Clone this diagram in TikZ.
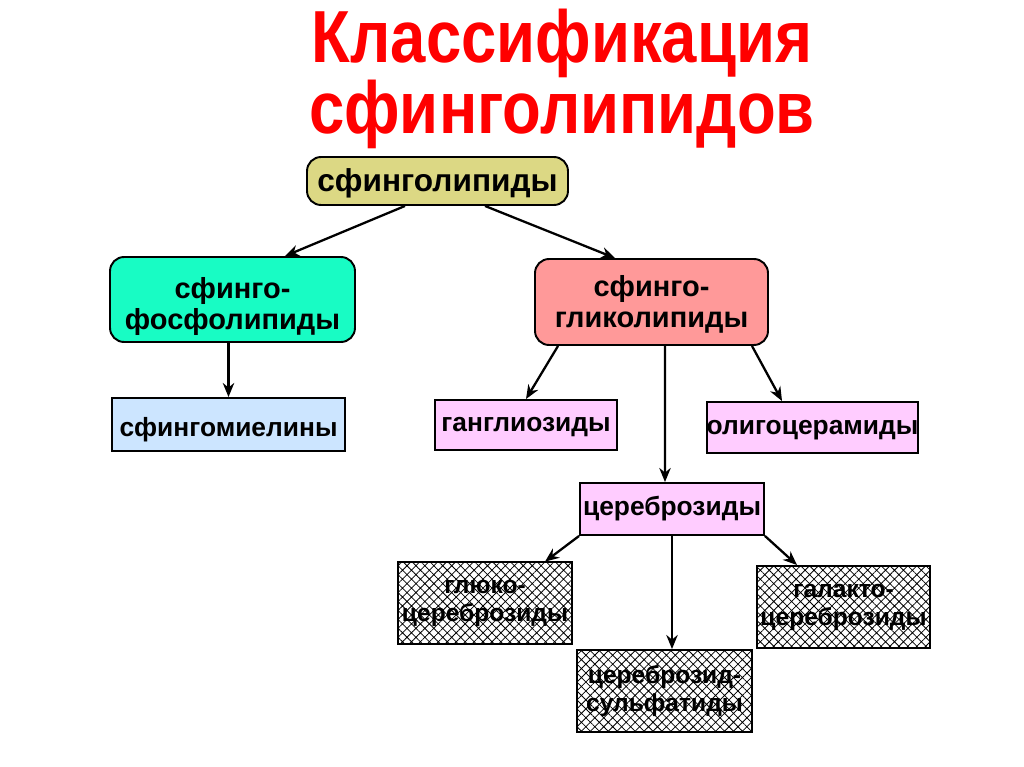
\documentclass[tikz,border=0pt]{standalone}
\usepackage{fontspec}
\setmainfont{Liberation Sans}
\newfontfamily\titlefont{Liberation Sans}[FakeStretch=0.86]
\usetikzlibrary{arrows.meta,patterns.meta}

\definecolor{lipidyellow}{RGB}{220,216,132}
\definecolor{phosgreen}{RGB}{24,252,196}
\definecolor{glycored}{RGB}{255,153,153}
\definecolor{myelinblue}{RGB}{204,229,255}
\definecolor{glycopink}{RGB}{255,204,255}

\begin{document}
\begin{tikzpicture}[x=0.02cm,y=-0.02cm,>={Stealth[length=8pt,width=6.5pt]},
  box/.style={draw, line width=1.1pt, align=center, inner sep=0pt,
    font=\bfseries\fontsize{15}{17}\selectfont, text height=10.8pt, text depth=3pt},
  roundbox/.style={draw, line width=1.1pt, align=center, inner sep=0pt, rounded corners=8pt,
    font=\bfseries\fontsize{16.5}{18}\selectfont},
  hatchbox/.style={draw, line width=1.1pt, align=center, inner sep=0pt, preaction={fill=white},
    pattern={Hatch[angle=45,distance=3.6pt,line width=0.45pt]},
    font=\bfseries\fontsize{14}{16}\selectfont},
  title/.style={anchor=base, align=center, text=red, font=\titlefont\bfseries\fontsize{42}{37.4}\selectfont},
  link/.style={->, line width=1.3pt}]
  \useasboundingbox (0,0) rectangle (1024,767);

  % title
  \node[title] (title) at (562,133) {Классификация\\сфинголипидов};

  % boxes
  \node[roundbox, fill=lipidyellow, minimum width=5.22cm, minimum height=0.96cm,
    font=\bfseries\fontsize{18}{20}\selectfont, text height=15.8pt, text depth=3.6pt] (sphingo) at (437.5,181) {сфинголипиды};
  \node[roundbox, fill=phosgreen, minimum width=4.9cm, minimum height=1.7cm,
    text height=37.9pt, text depth=3.3pt] (phospho) at (232.5,299.5) {сфинго-\\фосфолипиды};
  \node[roundbox, fill=glycored, minimum width=4.66cm, minimum height=1.72cm,
    text height=32.7pt, text depth=3.3pt] (glyco) at (651.5,302) {сфинго-\\гликолипиды};
  \node[box, fill=myelinblue, minimum width=4.66cm, minimum height=1.06cm,
    text height=16.4pt] (myelin) at (228.5,424.5) {сфингомиелины};
  \node[box, fill=glycopink, minimum width=3.64cm, minimum height=1.0cm] (gangl) at (526,425) {ганглиозиды};
  \node[box, fill=glycopink, minimum width=4.22cm, minimum height=1.02cm] (oligo) at (812.5,427.5) {олигоцерамиды};
  \node[box, fill=glycopink, minimum width=3.68cm, minimum height=1.04cm] (cerebr) at (672,509) {цереброзиды};
  \node[hatchbox, minimum width=3.48cm, minimum height=1.64cm] (gluco) at (485,603) {глюко-\\цереброзиды};
  \node[hatchbox, minimum width=3.46cm, minimum height=1.64cm] (galacto) at (843.5,607) {галакто-\\цереброзиды};
  \node[hatchbox, minimum width=3.5cm, minimum height=1.64cm] (sulfat) at (664.5,691) {цереброзид-\\сульфатиды};

  % arrows
  \draw[link] ([xshift=-0.65cm]sphingo.south) -- ([xshift=1.05cm]phospho.north);
  \draw[link] ([xshift=0.95cm]sphingo.south) -- ([xshift=-0.73cm]glyco.north);
  \draw[link] (phospho.south -| myelin.north) -- (myelin.north);
  \draw[link] ([xshift=-1.87cm]glyco.south) -- (gangl.north);
  \draw[link] ([xshift=0.27cm]glyco.south) -- ([xshift=-0.14cm]cerebr.north);
  \draw[link] ([xshift=2.01cm]glyco.south) -- ([xshift=-0.61cm]oligo.north);
  \draw[link] (cerebr.south west) -- ([xshift=1.2cm]gluco.north);
  \draw[link] (cerebr.south) -- (cerebr.south |- sulfat.north);
  \draw[link] (cerebr.south east) -- ([xshift=-0.93cm]galacto.north);
\end{tikzpicture}
\end{document}
